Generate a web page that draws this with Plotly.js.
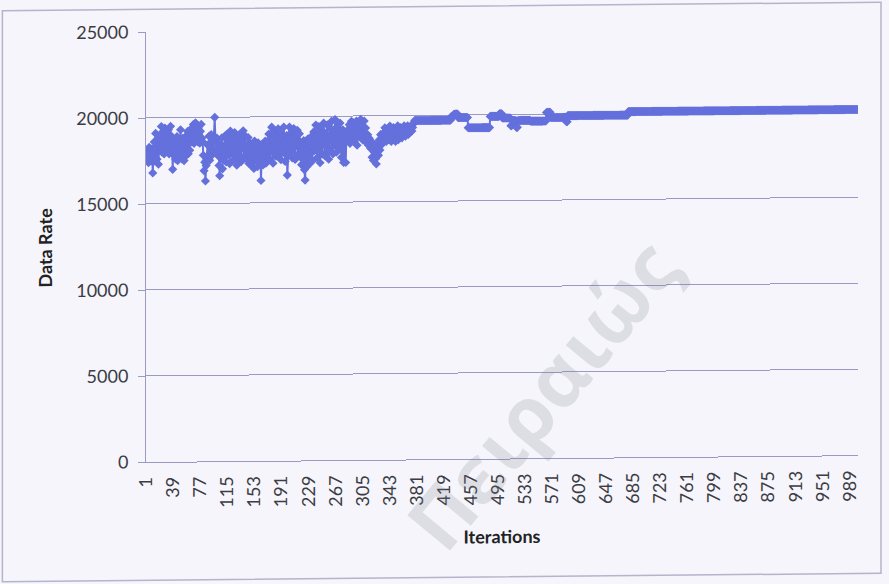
<!DOCTYPE html>
<html>
<head>
<meta charset="utf-8">
<script src="https://cdn.plot.ly/plotly-3.0.1.min.js"></script>
<style>
  html, body { margin: 0; padding: 0; background: #f5f5fb; overflow: hidden; }
  #chart { width: 889px; height: 584px; transform: skewY(-0.55deg); transform-origin: 146px 0; }
</style>
</head>
<body>
<div id="chart"></div>
<script>
// Data rate per iteration, iterations 1-380 (exploration phase)
const rateEarly = [
  18100, 17600, 17900, 17400, 18300, 17700, 18000, 17500, 18200, 16800,
  17900, 18600, 17500, 19100, 18200, 17600, 18800, 17300, 18400, 18900,
  18300, 19500, 18000, 19200, 18600, 17900, 19400, 18700, 18100, 19000,
  18400, 19300, 17900, 18800, 19500, 18200, 18900, 17000, 18500, 17800,
  18700, 17600, 18300, 18900, 17500, 18100, 18600, 17700, 19300, 18200,
  17600, 18800, 18000, 17500, 18400, 18900, 17800, 18300, 19200, 17900,
  18500, 18100, 19000, 18600, 19400, 18800, 19600, 18500, 19100, 19700,
  18700, 19300, 18600, 19500, 18900, 18500, 19200, 19600, 18800, 18600,
  17800, 16900, 17400, 16300, 17200, 17700, 18400, 17600, 18900, 17500,
  18300, 19000, 17800, 18600, 18100, 18800, 20000, 18600, 18000, 18800,
  17800, 18500, 17200, 16600, 18100, 17600, 18800, 17000, 18300, 17700,
  18900, 18200, 17400, 19000, 18500, 17800, 18700, 17300, 19200, 18400,
  17900, 18800, 17500, 18600, 19100, 17800, 18300, 17200, 18900, 18000,
  17600, 19000, 18500, 17400, 18700, 18200, 19200, 17700, 18400, 18900,
  17600, 18300, 17900, 18800, 17300, 18500, 17800, 17200, 18400, 17600,
  18100, 17000, 18600, 17500, 17900, 18300, 17100, 18500, 17700, 17400,
  18200, 16300, 17800, 18400, 17200, 18000, 17600, 18600, 17300, 17900,
  18500, 17600, 19000, 18200, 17500, 18800, 19400, 18000, 17300, 18700,
  19200, 18400, 17700, 18900, 18100, 19300, 17800, 18600, 19100, 17500,
  18300, 18800, 17900, 19400, 18500, 17400, 18200, 18900, 16600, 18000,
  18700, 19400, 17900, 18500, 19100, 17600, 18800, 19300, 18200, 17500,
  18900, 18400, 19200, 17800, 18600, 19000, 17700, 18300, 17200, 18000,
  17500, 18600, 16900, 16300, 17800, 18300, 17100, 18700, 17600, 18200,
  17300, 18800, 17900, 17400, 18500, 19100, 18000, 18700, 19500, 18300,
  17600, 18900, 19400, 18100, 17300, 18600, 19200, 17800, 18400, 19600,
  18700, 17700, 19000, 18300, 19500, 18000, 17500, 18800, 19300, 18600,
  19700, 18200, 17800, 19100, 18500, 19800, 18300, 17900, 19400, 18700,
  19000, 18100, 19600, 18800, 17600, 18400, 19200, 17300, 18900, 18500,
  17300, 19000, 18600, 19200, 18700, 19500, 18400, 19000, 19700, 18600,
  18900, 19600, 18500, 19300, 18800, 19700, 18300, 19100, 19500, 18800,
  19200, 19800, 18900, 19400, 18600, 19100, 19700, 18800, 19300, 18500,
  18400, 18900, 18300, 18700, 18600, 18100, 18500, 17600, 18200, 17400,
  17900, 18300, 17500, 17200, 18000, 18400, 17700, 18600, 18000, 18900,
  18300, 18700, 18500, 19000, 18600, 19300, 18800, 18500, 19200, 18700,
  19000, 18600, 19400, 18900, 18500, 19100, 18800, 19300, 18700, 19000,
  18500, 19200, 18900, 19400, 18600, 19100, 18800, 19300, 19000, 18700,
  19200, 18900, 19400, 19000, 18800, 19300, 19100, 19400, 18900, 19200,
  19000, 19300, 19400, 19100, 19300, 19500, 19600, 19700, 19700, 19700
];

// Iterations 381-1000: the rate holds steady over runs of iterations
const holdLevels  = [19700, 19900, 20050, 19850, 19250, 19900, 20050, 19800, 19350, 19650,
                     19250, 19650, 19600, 20100, 19800, 19550, 19900, 20100];
const holdLengths = [48, 4, 6, 14, 31, 13, 4, 12, 2, 6,
                     2, 18, 22, 6, 22, 2, 85, 323];

// Category labels shown on the iteration axis
const iterTicks = [1, 39, 77, 115, 153, 191, 229, 267, 305, 343, 381, 419, 457, 495,
                   533, 571, 609, 647, 685, 723, 761, 799, 837, 875, 913, 951, 989];
const rateTicks = [0, 5000, 10000, 15000, 20000, 25000];

const rates = rateEarly.slice();
holdLevels.forEach((lvl, k) => {
  for (let n = 0; n < holdLengths[k]; n++) rates.push(lvl);
});
const iterations = rates.map((_, i) => i + 1);

const gridCol = '#9a9ac6';
const textCol = '#3c3c44';
const fontFam = 'Lato, "Open Sans", sans-serif';

const trace = {
  type: 'scatter',
  mode: 'lines+markers',
  x: iterations,
  y: rates,
  line: { color: '#6470dc', width: 2 },
  marker: { symbol: 'diamond', size: 7, color: '#6470dc' },
  hoverinfo: 'skip'
};

const layout = {
  width: 889,
  height: 584,
  margin: { l: 146, r: 31, t: 32, b: 122 },
  paper_bgcolor: '#f5f5fb',
  plot_bgcolor: '#f5f5fb',
  showlegend: false,
  font: { family: fontFam, color: textCol, size: 18 },
  xaxis: {
    range: [0.5, 1000.5],
    tickmode: 'array',
    tickvals: iterTicks,
    ticktext: iterTicks.map(String),
    tickangle: -90,
    ticks: '',
    ticklabelstandoff: 7,
    showgrid: false,
    zeroline: false,
    showline: true,
    linecolor: gridCol,
    linewidth: 1,
    tickfont: { family: fontFam, size: 18, color: textCol },
    title: { text: 'Iterations', font: { family: fontFam, size: 18, color: '#222', weight: 'bold' }, standoff: 26 }
  },
  yaxis: {
    range: [0, 25000],
    tickmode: 'array',
    tickvals: rateTicks,
    ticktext: rateTicks.map(String),
    ticks: 'outside',
    ticklen: 7,
    tickcolor: gridCol,
    showgrid: true,
    gridcolor: gridCol,
    gridwidth: 1,
    zeroline: false,
    showline: true,
    linecolor: gridCol,
    linewidth: 1,
    ticklabelstandoff: 6,
    tickfont: { family: fontFam, size: 18, color: textCol },
    title: { text: 'Data Rate', font: { family: fontFam, size: 18, color: '#222', weight: 'bold' }, standoff: 18 }
  },
  shapes: [{
    type: 'rect', xref: 'paper', yref: 'paper',
    x0: -0.2017, x1: 1.0323, y0: -0.2751, y1: 1.0528,
    line: { color: '#b4b4cc', width: 1.5 }, layer: 'below'
  }],
  annotations: [{
    xref: 'paper', yref: 'paper', x: 0.555, y: 0.15,
    xanchor: 'center', yanchor: 'middle',
    text: 'Πειραιώς', showarrow: false, textangle: -50,
    font: { family: '"Open Sans", sans-serif', size: 78, weight: 'bold', color: 'rgba(125,125,140,0.2)' }
  }]
};

Plotly.newPlot('chart', [trace], layout, { staticPlot: true, displayModeBar: false });
</script>
</body>
</html>
